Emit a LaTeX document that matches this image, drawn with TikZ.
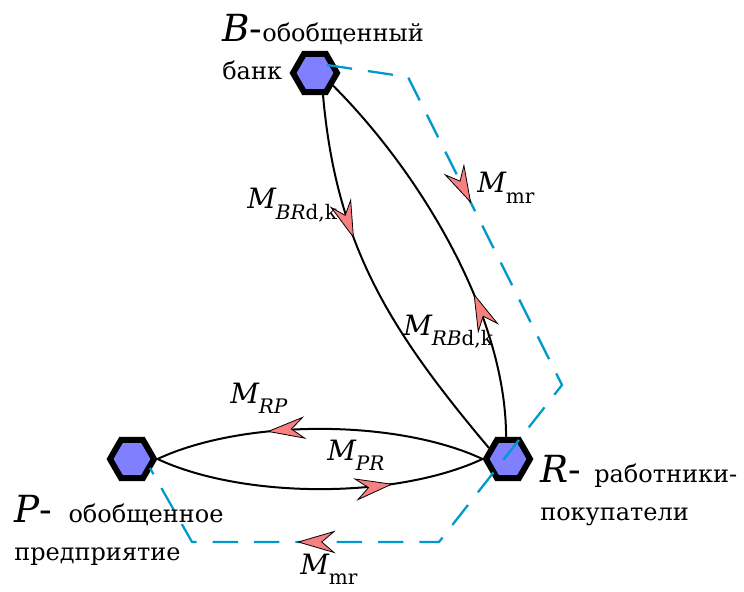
\documentclass[tikz,border=0pt]{standalone}
\usepackage{fontspec}
\setmainfont{DejaVu Serif}
\usetikzlibrary{arrows.meta,decorations.markings,shapes.geometric}

\definecolor{hexblue}{RGB}{128,128,255}
\definecolor{flowred}{RGB}{248,128,128}
\definecolor{mrcyan}{RGB}{0,153,204}

\newcommand{\bigfont}{\fontsize{28}{30}\selectfont}
\newcommand{\txtfont}{\fontsize{18}{20}\selectfont}
\newcommand{\mfont}{\fontsize{21}{24}\selectfont}
\newcommand{\subfont}{\fontsize{15}{16}\selectfont}
\newcommand{\flowname}[1]{{\mfont\itshape M}\raisebox{-8pt}{\subfont #1}}

\tikzset{
  hex/.style={regular polygon, regular polygon sides=6, minimum size=33pt,
    inner sep=0pt, draw=black, line width=4.5pt, fill=hexblue},
  loopline/.style={draw=black, line width=1.5pt},
  mrline/.style={draw=mrcyan, line width=1.7pt, dash pattern=on 19pt off 12pt},
  flowtip/.style={postaction={decorate}, decoration={markings,
    mark=at position #1 with {\arrow{Stealth[length=29pt,width=17pt,inset=10pt,
      color=black,fill=flowred,line width=0.6pt]}}}},
  lbl/.style={anchor=base west, inner sep=0pt},
}

\begin{document}
\begin{tikzpicture}[x=0.75pt, y=-0.75pt]
    % keep the page at the size of the reference
    \useasboundingbox (0,0) rectangle (744,592);

    % the three sectors
    \node[hex] (B) at (315,73) {};
    \node[hex] (P) at (132,459) {};
    \node[hex] (R) at (508,459) {};

    % loop between bank and workers
    \draw[loopline, flowtip=0.37] (B.-70) to[out=-85, in=130] (R.150);
    \draw[loopline, flowtip=0.37] (R.95) to[out=90, in=-45, looseness=0.8] (B.-35);

    % loop between firm and workers
    \draw[loopline, flowtip=0.66] (R.180) to[out=155, in=25, looseness=0.75] (P.0);
    \draw[loopline, flowtip=0.72] (P.0) to[out=-25, in=-155, looseness=0.75] (R.180);

    % money round (dashed)
    \coordinate (b0) at (327,65);
    \coordinate (c1) at (408,77);
    \coordinate (c2) at (562,385);
    \coordinate (c3) at (439,542);
    \coordinate (c4) at (192,542);
    \coordinate (p0) at (150,468);
    \draw[mrline] (b0) -- (c1) -- (c2) -- (c3) -- (c4) -- (p0);
    \path[flowtip=0.41] (c1) -- (c2);
    \path[flowtip=0.575] (c3) -- (c4);

    % sector labels
    \node[lbl] (Blbl) at (222,42) {{\bigfont\textit{B}-}{\txtfont обобщенный}};
    \node[lbl] (Bsub) at (222,80) {\txtfont банк};
    \node[lbl] (Rlbl) at (540,482) {{\bigfont\textit{R}-}\hspace{10pt}{\txtfont работники-}};
    \node[lbl] (Rsub) at (540,520) {\txtfont покупатели};
    \node[lbl] (Plbl) at (14,522) {{\bigfont\textit{P}-}\hspace{12pt}{\txtfont обобщенное}};
    \node[lbl] (Psub) at (14,560) {\txtfont предприятие};

    % flow labels
    \node[lbl] (mrtop) at (477,193) {\flowname{mr}};
    \node[lbl] (brdk) at (247,209) {\flowname{\textit{BR}d,k}};
    \node[lbl] (rbdk) at (403,335) {\flowname{\textit{RB}d,k}};
    \node[lbl] (rp) at (230,403) {\flowname{\textit{RP}}};
    \node[lbl] (pr) at (327,460) {\flowname{\textit{PR}}};
    \node[lbl] (mrbot) at (300,574) {\flowname{mr}};
\end{tikzpicture}
\end{document}
